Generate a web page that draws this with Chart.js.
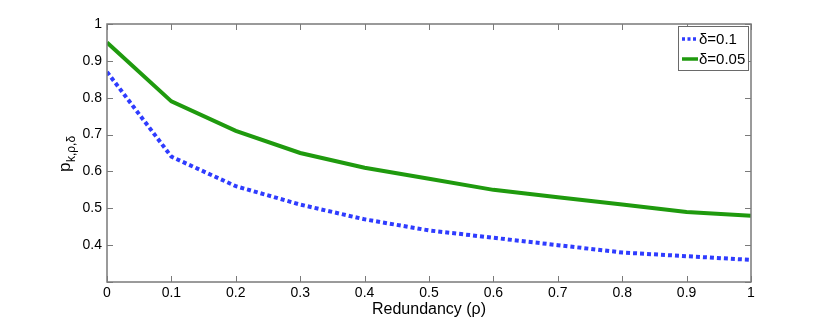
<!DOCTYPE html>
<html>
<head>
<meta charset="utf-8">
<script src="https://cdn.jsdelivr.net/npm/chart.js@4"></script>
<style>
  html, body { margin: 0; padding: 0; background: #fff; }
  #wrap { width: 830px; height: 319px; }
</style>
</head>
<body>
<div id="wrap"><canvas id="plot" width="830" height="319"></canvas></div>
<script>
const redundancy = [0, 0.1, 0.2, 0.3, 0.4, 0.5, 0.6, 0.7, 0.8, 0.9, 1];
const delta010 = [0.87, 0.64, 0.56, 0.51, 0.47, 0.44, 0.42, 0.40, 0.38, 0.37, 0.36];
const delta005 = [0.95, 0.79, 0.71, 0.65, 0.61, 0.58, 0.55, 0.53, 0.51, 0.49, 0.48];
const seriesNames = ['δ=0.1', 'δ=0.05'];
const xTicks = [0, 0.1, 0.2, 0.3, 0.4, 0.5, 0.6, 0.7, 0.8, 0.9, 1];
const yTicks = [0.3, 0.4, 0.5, 0.6, 0.7, 0.8, 0.9, 1];

const font = '"Liberation Sans", Arial, sans-serif';
const blue = '#2f3cff';
const green = '#1f9a0e';

// box, inward ticks, y title with subscripts, legend box
const matlabLook = {
    id: 'matlabLook',
    afterDraw(chart) {
        const ctx = chart.ctx;
        const a = chart.chartArea;
        const xs = chart.scales.x, ys = chart.scales.y;
        ctx.save();
        ctx.strokeStyle = '#7a7a7a';
        ctx.lineWidth = 1.5;
        ctx.strokeRect(a.left, a.top, a.right - a.left, a.bottom - a.top);
        ctx.lineWidth = 1;
        xTicks.forEach(v => {
            const px = Math.round(xs.getPixelForValue(v)) + 0.5;
            ctx.beginPath();
            ctx.moveTo(px, a.bottom); ctx.lineTo(px, a.bottom - 6);
            ctx.moveTo(px, a.top); ctx.lineTo(px, a.top + 6);
            ctx.stroke();
        });
        yTicks.forEach(v => {
            const py = Math.round(ys.getPixelForValue(v)) + 0.5;
            ctx.beginPath();
            ctx.moveTo(a.left, py); ctx.lineTo(a.left + 6, py);
            ctx.moveTo(a.right, py); ctx.lineTo(a.right - 6, py);
            ctx.stroke();
        });

        // y axis title: p_{k,ρ,δ}
        ctx.fillStyle = '#000';
        ctx.translate(70, 172);
        ctx.rotate(-Math.PI / 2);
        ctx.textBaseline = 'alphabetic';
        ctx.textAlign = 'left';
        ctx.font = '17px ' + font;
        ctx.fillText('p', 0, 0);
        const pw = ctx.measureText('p').width;
        ctx.font = '12px ' + font;
        ctx.fillText('k,ρ,δ', pw + 0.5, 5);
        ctx.setTransform(1, 0, 0, 1, 0, 0);

        // legend
        const lx = 678, ly = 26, lw = 70, lh = 44;
        ctx.fillStyle = '#fff';
        ctx.fillRect(lx, ly, lw, lh);
        ctx.strokeStyle = '#6a6a6a';
        ctx.lineWidth = 1;
        ctx.strokeRect(lx + 0.5, ly + 0.5, lw, lh);
        const rows = [
            { name: seriesNames[0], color: blue, dash: [3, 2.5] },
            { name: seriesNames[1], color: green, dash: [] }
        ];
        ctx.font = '15px ' + font;
        ctx.textBaseline = 'middle';
        rows.forEach((r, i) => {
            const yy = ly + 13 + i * 20;
            ctx.strokeStyle = r.color;
            ctx.lineWidth = 3.5;
            ctx.setLineDash(r.dash);
            ctx.beginPath();
            ctx.moveTo(lx + 4, yy); ctx.lineTo(lx + 20, yy);
            ctx.stroke();
            ctx.setLineDash([]);
            ctx.fillStyle = '#000';
            ctx.fillText(r.name, lx + 21, yy + 1);
        });
        ctx.restore();
    }
};

new Chart(document.getElementById('plot'), {
    type: 'line',
    data: {
        labels: redundancy,
        datasets: [
            {
                label: seriesNames[0],
                data: redundancy.map((x, i) => ({ x: x, y: delta010[i] })),
                borderColor: blue,
                borderWidth: 4,
                borderDash: [4, 3],
                pointRadius: 0,
                tension: 0,
                fill: false
            },
            {
                label: seriesNames[1],
                data: redundancy.map((x, i) => ({ x: x, y: delta005[i] })),
                borderColor: green,
                borderWidth: 4,
                pointRadius: 0,
                tension: 0,
                fill: false
            }
        ]
    },
    options: {
        responsive: false,
        animation: false,
        layout: { padding: { left: 0, right: 79, top: 24, bottom: 0 } },
        plugins: { legend: { display: false }, tooltip: { enabled: false } },
        scales: {
            x: {
                type: 'linear',
                min: 0, max: 1,
                afterBuildTicks: s => { s.ticks = xTicks.map(v => ({ value: v })); },
                afterFit: s => { s.height = 37; },
                grid: { display: false, drawTicks: false },
                border: { display: false },
                ticks: { color: '#000', font: { family: font, size: 14 }, padding: 3, maxRotation: 0,
                    callback: v => String(v) },
                title: { display: true, text: 'Redundancy (ρ)', color: '#000',
                    font: { family: font, size: 16 }, padding: { top: -4, bottom: 0 } }
            },
            y: {
                min: 0.3, max: 1,
                afterBuildTicks: s => { s.ticks = yTicks.map(v => ({ value: v })); },
                afterFit: s => { s.width = 107; },
                grid: { display: false, drawTicks: false },
                border: { display: false },
                ticks: { color: '#000', font: { family: font, size: 14 }, padding: 5,
                    callback: v => (v === 0.3 ? '' : String(v)) }
            }
        }
    },
    plugins: [matlabLook]
});
</script>
</body>
</html>
